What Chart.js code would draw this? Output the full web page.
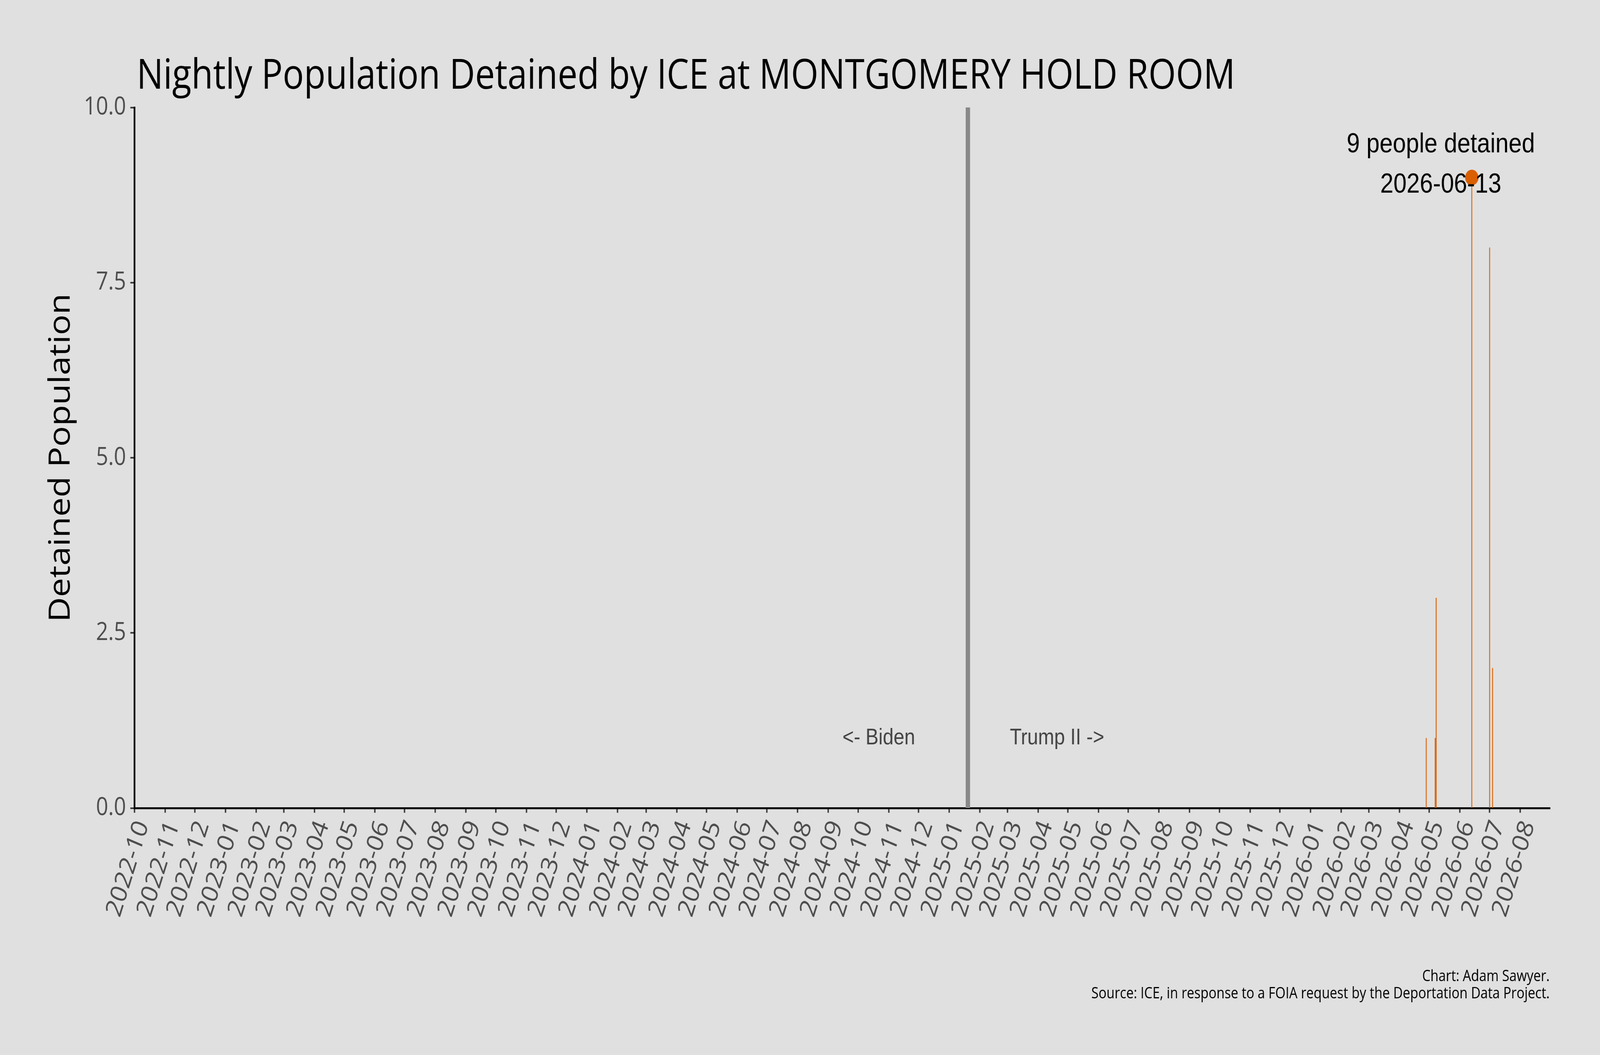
<!DOCTYPE html>
<html>
<head>
<meta charset="utf-8">
<script src="https://cdn.jsdelivr.net/npm/chart.js@4.4.1/dist/chart.umd.min.js"></script>
<style>
  html, body { margin: 0; padding: 0; background: #e0e0e0; overflow: hidden; }
  #frame { width: 100vw; height: 100vh; overflow: hidden; position: relative; }
  #wrap { width: 4800px; height: 2700px; position: absolute; left: 0; top: 0; transform-origin: 0 0; }
</style>
</head>
<body>
<div id="frame"><div id="wrap"><canvas id="iceChart"></canvas></div></div>
<script>
// nights with anyone booked into the hold room (all other nights were 0)
const nightDates = ['2026-04-28', '2026-05-07', '2026-05-08', '2026-06-13', '2026-07-01', '2026-07-04'];
const nightPopulation = [1, 1, 3, 9, 8, 2];

const monthTicks = [
  '2022-10', '2022-11', '2022-12',
  '2023-01', '2023-02', '2023-03', '2023-04', '2023-05', '2023-06',
  '2023-07', '2023-08', '2023-09', '2023-10', '2023-11', '2023-12',
  '2024-01', '2024-02', '2024-03', '2024-04', '2024-05', '2024-06',
  '2024-07', '2024-08', '2024-09', '2024-10', '2024-11', '2024-12',
  '2025-01', '2025-02', '2025-03', '2025-04', '2025-05', '2025-06',
  '2025-07', '2025-08', '2025-09', '2025-10', '2025-11', '2025-12',
  '2026-01', '2026-02', '2026-03', '2026-04', '2026-05', '2026-06',
  '2026-07', '2026-08'
];
const yTicks = [0, 2.5, 5, 7.5, 10];

const axisStart = '2022-10-01';
const axisEnd = '2026-08-31';
const inaugurationDate = '2025-01-20';
const peakDate = '2026-06-13';
const peakValue = 9;
const eraLabelValue = 1;   // height of the "<- Biden" / "Trump II ->" notes
const eraLabelDays = 90;   // notes sit this many days either side of the line

const ORANGE = '#d95f02';
const BG = '#e0e0e0';
const SANS = '"Open Sans", "Noto Sans", sans-serif';
const ARIAL = '"Liberation Sans", Arial, sans-serif';

// the chart is laid out on a 4800x2700 board, stretched onto whatever window we get
const W = 4800, H = 2700;
const sx = window.innerWidth / W;
const sy = window.innerHeight / H;
document.getElementById('wrap').style.transform = 'scale(' + sx + ',' + sy + ')';

// days since epoch, so the x axis is a plain linear scale
function dayNum(s) {
  const p = s.split('-').map(Number);
  return Date.UTC(p[0], p[1] - 1, p[2] || 1) / 864e5;
}

const barPoints = nightDates.map((d, i) => ({ x: dayNum(d), y: nightPopulation[i] }));
const inaugX = dayNum(inaugurationDate);

const decorPlugin = {
  id: 'decor',
  beforeDraw(chart) {
    const c = chart.ctx;
    c.save();
    c.fillStyle = BG;
    c.fillRect(0, 0, chart.width, chart.height);
    c.restore();
  },
  afterDraw(chart) {
    const c = chart.ctx;
    const xs = chart.scales.x;
    const ys = chart.scales.y;
    c.save();

    // title
    c.fillStyle = '#000';
    c.textAlign = 'left';
    c.textBaseline = 'alphabetic';
    c.font = '106px ' + SANS;
    c.fillText('Nightly Population Detained by ICE at MONTGOMERY HOLD ROOM', 410, 227);

    // era notes
    c.fillStyle = '#444444';
    c.font = '58px ' + ARIAL;
    c.textAlign = 'center';
    c.textBaseline = 'middle';
    const ey = ys.getPixelForValue(eraLabelValue);
    c.fillText('<- Biden', xs.getPixelForValue(inaugX - eraLabelDays), ey);
    c.fillText('Trump II ->', xs.getPixelForValue(inaugX + eraLabelDays), ey);

    // peak annotation
    const px = xs.getPixelForValue(dayNum(peakDate));
    const py = ys.getPixelForValue(peakValue);
    c.fillStyle = '#000';
    c.font = '71px ' + ARIAL;
    c.textBaseline = 'alphabetic';
    c.fillText(peakValue + ' people detained', px - 93, py - 64);
    c.fillText(peakDate, px - 93, py + 39);

    // credits
    c.textAlign = 'right';
    c.font = '39.5px ' + SANS;
    c.fillText('Chart: Adam Sawyer.', 4649, 2511);
    c.fillText('Source: ICE, in response to a FOIA request by the Deportation Data Project.', 4649, 2555);
    c.restore();
  }
};

const ctx = document.getElementById('iceChart').getContext('2d');
const iceChart = new Chart(ctx, {
  type: 'bar',
  data: {
    datasets: [
      {
        type: 'scatter',
        data: [{ x: dayNum(peakDate), y: peakValue }],
        pointRadius: 20,
        pointBackgroundColor: ORANGE,
        pointBorderWidth: 0,
        clip: false
      },
      {
        type: 'bar',
        label: 'Detained Population',
        data: barPoints,
        backgroundColor: ORANGE,
        borderWidth: 0,
        barPercentage: 0.9,
        categoryPercentage: 1
      },
      {
        type: 'line',
        data: [{ x: inaugX, y: 0 }, { x: inaugX, y: 10 }],
        borderColor: '#888888',
        borderWidth: 13,
        borderCapStyle: 'butt',
        pointRadius: 0
      }
    ]
  },
  options: {
    responsive: true,
    maintainAspectRatio: false,
    devicePixelRatio: Math.max(1, (window.devicePixelRatio || 1) * Math.max(sx, sy)),
    animation: false,
    layout: { padding: { left: 0, top: 275, right: 150, bottom: 0 } },
    plugins: {
      legend: { display: false },
      tooltip: { enabled: false }
    },
    scales: {
      x: {
        type: 'linear',
        min: dayNum(axisStart),
        max: dayNum(axisEnd),
        offset: false,
        grid: {
          display: true,
          offset: false,
          drawOnChartArea: false,
          drawTicks: true,
          tickLength: 12,
          tickWidth: 4,
          tickColor: '#333333'
        },
        border: { display: true, color: '#000', width: 5 },
        afterBuildTicks: (scale) => {
          scale.ticks = monthTicks.map(m => ({ value: dayNum(m) }));
        },
        afterFit: (scale) => { scale.height = 632; },
        ticks: {
          autoSkip: false,
          minRotation: 70,
          maxRotation: 70,
          padding: 10,
          labelOffset: 25,
          color: '#4d4d4d',
          font: { family: SANS, size: 68 },
          callback: (value, index) => monthTicks[index]
        }
      },
      y: {
        min: 0,
        max: 10,
        grid: {
          display: true,
          drawOnChartArea: false,
          drawTicks: true,
          tickLength: 12,
          tickWidth: 4,
          tickColor: '#333333'
        },
        border: { display: true, color: '#000', width: 5 },
        afterBuildTicks: (scale) => {
          scale.ticks = yTicks.map(v => ({ value: v }));
        },
        afterFit: (scale) => { scale.width = 403; },
        ticks: {
          padding: 13,
          color: '#4d4d4d',
          font: { family: SANS, size: 64 },
          callback: (value) => Number(value).toFixed(1)
        },
        title: {
          display: true,
          text: 'Detained Population',
          color: '#000',
          font: { family: SANS, size: 88 },
          padding: { top: 131, bottom: 0 }
        }
      }
    }
  },
  plugins: [decorPlugin]
});
</script>
</body>
</html>
